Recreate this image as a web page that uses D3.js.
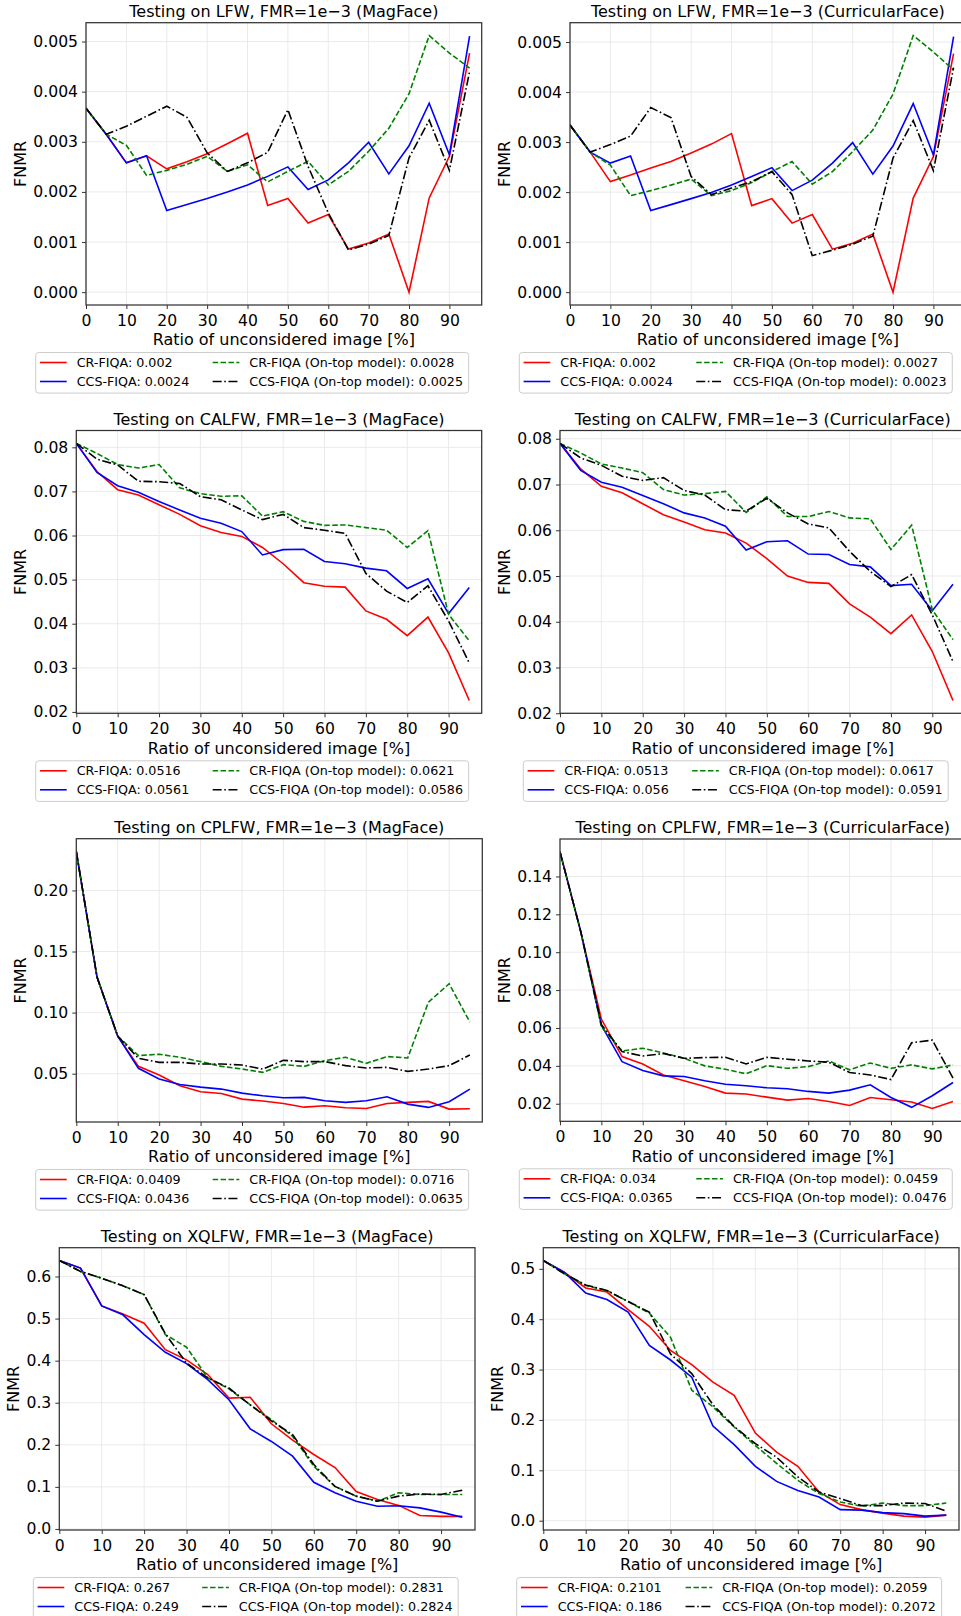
<!DOCTYPE html>
<html>
<head>
<meta charset="utf-8">
<script src="https://cdn.jsdelivr.net/npm/d3@7"></script>
<style>
  body { margin: 0; background: #fff; }
  svg { display: block; font-family: "DejaVu Sans", sans-serif; }
</style>
</head>
<body>
<svg id="chart" width="961" height="1616"></svg>
<script>
const ratios = [0, 5, 10, 15, 20, 25, 30, 35, 40, 45, 50, 55, 60, 65, 70, 75, 80, 85, 90, 95];
const xTicks = [0, 10, 20, 30, 40, 50, 60, 70, 80, 90];
const methodNames = ["CR-FIQA", "CCS-FIQA", "CR-FIQA (On-top model)", "CCS-FIQA (On-top model)"];

const titles = [
  "Testing on LFW, FMR=1e\u22123 (MagFace)",
  "Testing on LFW, FMR=1e\u22123 (CurricularFace)",
  "Testing on CALFW, FMR=1e\u22123 (MagFace)",
  "Testing on CALFW, FMR=1e\u22123 (CurricularFace)",
  "Testing on CPLFW, FMR=1e\u22123 (MagFace)",
  "Testing on CPLFW, FMR=1e\u22123 (CurricularFace)",
  "Testing on XQLFW, FMR=1e\u22123 (MagFace)",
  "Testing on XQLFW, FMR=1e\u22123 (CurricularFace)"
];

// legend numbers (AUC) per panel, in order CR, CCS, CR on-top, CCS on-top
const legendValues = [
  ["0.002", "0.0024", "0.0028", "0.0025"],
  ["0.002", "0.0024", "0.0027", "0.0023"],
  ["0.0516", "0.0561", "0.0621", "0.0586"],
  ["0.0513", "0.056", "0.0617", "0.0591"],
  ["0.0409", "0.0436", "0.0716", "0.0635"],
  ["0.034", "0.0365", "0.0459", "0.0476"],
  ["0.267", "0.249", "0.2831", "0.2824"],
  ["0.2101", "0.186", "0.2059", "0.2072"]
];

const yTicks = [
  [0, 0.001, 0.002, 0.003, 0.004, 0.005],
  [0, 0.001, 0.002, 0.003, 0.004, 0.005],
  [0.02, 0.03, 0.04, 0.05, 0.06, 0.07, 0.08],
  [0.02, 0.03, 0.04, 0.05, 0.06, 0.07, 0.08],
  [0.05, 0.10, 0.15, 0.20],
  [0.02, 0.04, 0.06, 0.08, 0.10, 0.12, 0.14],
  [0, 0.1, 0.2, 0.3, 0.4, 0.5, 0.6],
  [0, 0.1, 0.2, 0.3, 0.4, 0.5]
];
const yFormats = [".3f", ".3f", ".2f", ".2f", ".2f", ".2f", ".1f", ".1f"];

// LFW - MagFace
const lfwMagCR = [0.00367,0.00315,0.00258,0.00272,0.00246,0.00260,0.00276,0.00296,0.00317,0.00173,0.00187,0.00138,0.00155,0.00086,0.00098,0.00116,0.00000,0.00188,0.00271,0.00477];
const lfwMagCCS = [0.00367,0.00315,0.00258,0.00272,0.00163,0.00175,0.00187,0.00200,0.00214,0.00231,0.00250,0.00205,0.00224,0.00258,0.00299,0.00236,0.00292,0.00377,0.00274,0.00511];
const lfwMagCRTop = [0.00367,0.00315,0.00293,0.00233,0.00243,0.00255,0.00271,0.00241,0.00254,0.00220,0.00241,0.00261,0.00214,0.00241,0.00281,0.00327,0.00396,0.00512,0.00477,0.00447];
const lfwMagCCSTop = [0.00367,0.00315,0.00331,0.00351,0.00371,0.00349,0.00278,0.00241,0.00258,0.00279,0.00364,0.00251,0.00158,0.00084,0.00096,0.00113,0.00268,0.00343,0.00243,0.00440];

// LFW - CurricularFace
const lfwCurCR = [0.00334,0.00280,0.00221,0.00234,0.00248,0.00261,0.00278,0.00296,0.00317,0.00173,0.00187,0.00138,0.00155,0.00086,0.00098,0.00116,0.00000,0.00188,0.00271,0.00477];
const lfwCurCCS = [0.00334,0.00280,0.00258,0.00272,0.00163,0.00175,0.00187,0.00199,0.00214,0.00231,0.00249,0.00203,0.00224,0.00258,0.00299,0.00236,0.00292,0.00377,0.00274,0.00511];
const lfwCurCRTop = [0.00334,0.00280,0.00254,0.00193,0.00203,0.00214,0.00226,0.00193,0.00203,0.00219,0.00241,0.00261,0.00216,0.00241,0.00281,0.00324,0.00396,0.00513,0.00480,0.00444];
const lfwCurCCSTop = [0.00334,0.00280,0.00295,0.00312,0.00369,0.00349,0.00231,0.00195,0.00208,0.00221,0.00241,0.00195,0.00073,0.00084,0.00096,0.00112,0.00268,0.00343,0.00243,0.00449];

// CALFW - MagFace
const calfwMagCR = [0.0809,0.0745,0.0704,0.0692,0.0670,0.0648,0.0622,0.0607,0.0598,0.0573,0.0536,0.0493,0.0485,0.0483,0.0429,0.0410,0.0373,0.0415,0.0334,0.0226];
const calfwMagCCS = [0.0809,0.0743,0.0713,0.0698,0.0677,0.0658,0.0639,0.0628,0.0609,0.0556,0.0568,0.0569,0.0541,0.0536,0.0526,0.0520,0.0480,0.0502,0.0423,0.0482];
const calfwMagCRTop = [0.0809,0.0786,0.0761,0.0753,0.0761,0.0708,0.0695,0.0689,0.0690,0.0644,0.0654,0.0632,0.0623,0.0624,0.0618,0.0612,0.0573,0.0611,0.0421,0.0361];
const calfwMagCCSTop = [0.0809,0.0773,0.0760,0.0723,0.0722,0.0718,0.0688,0.0681,0.0658,0.0636,0.0648,0.0618,0.0612,0.0605,0.0514,0.0474,0.0448,0.0486,0.0406,0.0311];

// CALFW - CurricularFace
const calfwCurCR = [0.0790,0.0734,0.0696,0.0682,0.0658,0.0634,0.0618,0.0601,0.0594,0.0572,0.0538,0.0500,0.0486,0.0484,0.0439,0.0410,0.0374,0.0415,0.0335,0.0228];
const calfwCurCCS = [0.0790,0.0731,0.0705,0.0694,0.0676,0.0658,0.0638,0.0627,0.0609,0.0557,0.0575,0.0577,0.0548,0.0547,0.0525,0.0520,0.0479,0.0482,0.0424,0.0482];
const calfwCurCRTop = [0.0790,0.0769,0.0745,0.0736,0.0726,0.0689,0.0677,0.0680,0.0685,0.0639,0.0673,0.0630,0.0630,0.0641,0.0627,0.0625,0.0558,0.0611,0.0426,0.0361];
const calfwCurCCSTop = [0.0790,0.0758,0.0742,0.0718,0.0709,0.0715,0.0687,0.0677,0.0645,0.0642,0.0670,0.0638,0.0614,0.0605,0.0554,0.0510,0.0477,0.0503,0.0415,0.0313];

// CPLFW - MagFace
const cplfwMagCR = [0.2318,0.1291,0.0807,0.0560,0.0489,0.0401,0.0352,0.0338,0.0292,0.0276,0.0256,0.0226,0.0237,0.0221,0.0215,0.0256,0.0265,0.0273,0.0210,0.0213];
const cplfwMagCCS = [0.2318,0.1291,0.0807,0.0544,0.0456,0.0412,0.0390,0.0374,0.0341,0.0319,0.0303,0.0306,0.0278,0.0265,0.0278,0.0311,0.0251,0.0224,0.0270,0.0374];
const cplfwMagCRTop = [0.2318,0.1291,0.0807,0.0648,0.0659,0.0634,0.0599,0.0560,0.0538,0.0511,0.0574,0.0560,0.0607,0.0634,0.0585,0.0640,0.0629,0.1086,0.1236,0.0922];
const cplfwMagCCSTop = [0.2318,0.1291,0.0807,0.0626,0.0593,0.0593,0.0579,0.0579,0.0571,0.0538,0.0609,0.0599,0.0599,0.0566,0.0547,0.0552,0.0519,0.0538,0.0566,0.0653];

// CPLFW - CurricularFace
const cplfwCurCR = [0.1530,0.1110,0.0647,0.0449,0.0410,0.0352,0.0321,0.0291,0.0256,0.0251,0.0235,0.0219,0.0228,0.0212,0.0191,0.0233,0.0221,0.0209,0.0175,0.0212];
const cplfwCurCCS = [0.1530,0.1110,0.0615,0.0422,0.0375,0.0347,0.0344,0.0321,0.0303,0.0295,0.0284,0.0279,0.0265,0.0256,0.0272,0.0300,0.0233,0.0181,0.0242,0.0312];
const cplfwCurCRTop = [0.1530,0.1110,0.0606,0.0479,0.0493,0.0468,0.0440,0.0400,0.0382,0.0358,0.0401,0.0387,0.0396,0.0426,0.0379,0.0415,0.0387,0.0405,0.0384,0.0405];
const cplfwCurCCSTop = [0.1530,0.1110,0.0619,0.0475,0.0452,0.0465,0.0440,0.0444,0.0445,0.0410,0.0445,0.0435,0.0426,0.0419,0.0365,0.0352,0.0328,0.0522,0.0536,0.0335];

// XQLFW - MagFace
const xqlfwMagCR = [0.638,0.620,0.530,0.511,0.489,0.426,0.402,0.367,0.311,0.313,0.250,0.211,0.177,0.146,0.089,0.070,0.056,0.032,0.030,0.030];
const xqlfwMagCCS = [0.638,0.620,0.530,0.509,0.462,0.420,0.393,0.355,0.307,0.238,0.208,0.173,0.111,0.086,0.066,0.054,0.055,0.050,0.040,0.028];
const xqlfwMagCRTop = [0.638,0.612,0.596,0.578,0.557,0.462,0.432,0.359,0.333,0.295,0.260,0.220,0.149,0.101,0.078,0.066,0.086,0.082,0.082,0.082];
const xqlfwMagCCSTop = [0.638,0.612,0.596,0.578,0.557,0.464,0.394,0.359,0.335,0.295,0.257,0.224,0.153,0.101,0.078,0.066,0.078,0.083,0.082,0.092];

// XQLFW - CurricularFace
const xqlfwCurCR = [0.5165,0.493,0.462,0.454,0.419,0.386,0.338,0.310,0.275,0.249,0.174,0.136,0.108,0.057,0.032,0.022,0.015,0.009,0.007,0.011];
const xqlfwCurCCS = [0.5165,0.493,0.452,0.439,0.414,0.348,0.319,0.285,0.188,0.151,0.108,0.078,0.060,0.047,0.022,0.021,0.016,0.014,0.009,0.011];
const xqlfwCurCRTop = [0.5165,0.490,0.467,0.457,0.435,0.412,0.364,0.259,0.226,0.186,0.149,0.114,0.080,0.054,0.037,0.029,0.035,0.030,0.030,0.035];
const xqlfwCurCCSTop = [0.5165,0.490,0.468,0.457,0.435,0.414,0.331,0.292,0.230,0.187,0.153,0.126,0.087,0.057,0.044,0.030,0.030,0.035,0.034,0.019];

const panelSeries = [
  [lfwMagCR, lfwMagCCS, lfwMagCRTop, lfwMagCCSTop],
  [lfwCurCR, lfwCurCCS, lfwCurCRTop, lfwCurCCSTop],
  [calfwMagCR, calfwMagCCS, calfwMagCRTop, calfwMagCCSTop],
  [calfwCurCR, calfwCurCCS, calfwCurCRTop, calfwCurCCSTop],
  [cplfwMagCR, cplfwMagCCS, cplfwMagCRTop, cplfwMagCCSTop],
  [cplfwCurCR, cplfwCurCCS, cplfwCurCRTop, cplfwCurCCSTop],
  [xqlfwMagCR, xqlfwMagCCS, xqlfwMagCRTop, xqlfwMagCCSTop],
  [xqlfwCurCR, xqlfwCurCCS, xqlfwCurCRTop, xqlfwCurCCSTop]
];

const layout = [
  { left: 86, top: 22.7, w: 395.7, h: 282.3, legendX: 35.7 },
  { left: 570, top: 22.7, w: 395.7, h: 282.3, legendX: 519.3 },
  { left: 76.3, top: 430.5, w: 405.4, h: 282.8, legendX: 35.7 },
  { left: 560, top: 430.5, w: 405.4, h: 282.8, legendX: 523.3 },
  { left: 76.3, top: 838.7, w: 406, h: 283.3, legendX: 35.7 },
  { left: 560, top: 839, w: 405.4, h: 282.3, legendX: 519.3 },
  { left: 59.3, top: 1247.7, w: 415.7, h: 282.3, legendX: 33.3 },
  { left: 543.3, top: 1247.7, w: 415.7, h: 282.3, legendX: 516.7 }
];

const lineStyles = [
  { color: "#ff0000", dash: null },
  { color: "#0000ff", dash: null },
  { color: "#008000", dash: "5.5,2.4" },
  { color: "#000000", dash: "9,2.6,1.6,2.6" }
];

const svg = d3.select("#chart");
const tickFont = 15.6;
const labelFont = 16;
const legendFont = 12.7;

function renderPanel(i) {
  const box = layout[i];
  const series = panelSeries[i];

  const allVals = series.flat();
  const [lo, hi] = d3.extent(allVals);
  const pad = (hi - lo) * 0.05;

  const xScale = d3.scaleLinear().domain([0, 98]).range([0, box.w]);
  const yScale = d3.scaleLinear().domain([lo - pad, hi + pad]).range([box.h, 0]);

  const g = svg.append("g").attr("transform", `translate(${box.left}, ${box.top})`);

  // grid
  g.append("g")
    .selectAll("line")
    .data(xTicks)
    .join("line")
    .attr("x1", (d) => xScale(d))
    .attr("x2", (d) => xScale(d))
    .attr("y1", 0)
    .attr("y2", box.h)
    .attr("stroke", "#e8e8e8")
    .attr("stroke-width", 0.9);
  g.append("g")
    .selectAll("line")
    .data(yTicks[i])
    .join("line")
    .attr("x1", 0)
    .attr("x2", box.w)
    .attr("y1", (d) => yScale(d))
    .attr("y2", (d) => yScale(d))
    .attr("stroke", "#e8e8e8")
    .attr("stroke-width", 0.9);

  const clipId = "clip" + i;
  g.append("clipPath")
    .attr("id", clipId)
    .append("rect")
    .attr("width", box.w)
    .attr("height", box.h);

  const line = d3
    .line()
    .x((d, k) => xScale(ratios[k]))
    .y((d) => yScale(d));

  g.append("g")
    .attr("clip-path", `url(#${clipId})`)
    .selectAll("path")
    .data(series)
    .join("path")
    .attr("d", line)
    .attr("fill", "none")
    .attr("stroke", (d, k) => lineStyles[k].color)
    .attr("stroke-width", 1.6)
    .attr("stroke-dasharray", (d, k) => lineStyles[k].dash);

  // frame
  g.append("rect")
    .attr("width", box.w)
    .attr("height", box.h)
    .attr("fill", "none")
    .attr("stroke", "#333")
    .attr("stroke-width", 1.25);

  // axes
  const xAxis = d3.axisBottom(xScale).tickValues(xTicks).tickSize(4).tickSizeOuter(0).tickPadding(5.6);
  const yAxis = d3
    .axisLeft(yScale)
    .tickValues(yTicks[i])
    .tickFormat(d3.format(yFormats[i]))
    .tickSize(4)
    .tickSizeOuter(0)
    .tickPadding(4);

  const gx = g.append("g").attr("transform", `translate(0, ${box.h})`).call(xAxis);
  const gy = g.append("g").call(yAxis);
  [gx, gy].forEach((a) => {
    a.select(".domain").remove();
    a.selectAll("line").attr("stroke", "#333").attr("stroke-width", 1);
    a.selectAll("text")
      .attr("fill", "#000")
      .style("font-size", tickFont + "px")
      .style("font-family", '"DejaVu Sans", sans-serif');
  });

  let maxW = 0;
  gy.selectAll("text").each(function () {
    maxW = Math.max(maxW, this.getComputedTextLength());
  });

  // title + axis labels
  g.append("text")
    .text(titles[i])
    .attr("x", box.w / 2)
    .attr("y", -6)
    .attr("text-anchor", "middle")
    .style("font-size", labelFont + "px");

  g.append("text")
    .text("Ratio of unconsidered image [%]")
    .attr("x", box.w / 2)
    .attr("y", box.h + 40.5)
    .attr("text-anchor", "middle")
    .style("font-size", labelFont + "px");

  g.append("text")
    .text("FNMR")
    .attr("transform", `translate(${-8 - maxW - 7.5}, ${box.h / 2}) rotate(-90)`)
    .attr("text-anchor", "middle")
    .style("font-size", labelFont + "px");

  renderLegend(i, box);
}

function renderLegend(i, box) {
  const lx = box.legendX;
  const ly = box.top + box.h + 47.5;
  const lg = svg.append("g").attr("transform", `translate(${lx}, ${ly})`);

  const bg = lg.append("rect")
    .attr("rx", 3)
    .attr("ry", 3)
    .attr("height", 40.6)
    .attr("fill", "#fff")
    .attr("fill-opacity", 0.8)
    .attr("stroke", "#cccccc")
    .attr("stroke-width", 1);

  const labels = methodNames.map((n, k) => `${n}: ${legendValues[i][k]}`);
  const rowY = [10, 29];

  // first column: k = 0, 1; second column: k = 2, 3
  let colX = 4.3;
  let endX = 0;
  [[0, 1], [2, 3]].forEach((col) => {
    let colW = 0;
    col.forEach((k, r) => {
      lg.append("line")
        .attr("x1", colX)
        .attr("x2", colX + 26.7)
        .attr("y1", rowY[r])
        .attr("y2", rowY[r])
        .attr("stroke", lineStyles[k].color)
        .attr("stroke-width", 1.6)
        .attr("stroke-dasharray", lineStyles[k].dash);
      const t = lg.append("text")
        .text(labels[k])
        .attr("x", colX + 36.7)
        .attr("y", rowY[r])
        .attr("dy", "0.36em")
        .style("font-size", legendFont + "px");
      colW = Math.max(colW, t.node().getComputedTextLength());
    });
    endX = colX + 36.7 + colW;
    colX = endX + 23.4;
  });
  bg.attr("width", endX + 5.7);
}

d3.range(8).forEach(renderPanel);
</script>
</body>
</html>
